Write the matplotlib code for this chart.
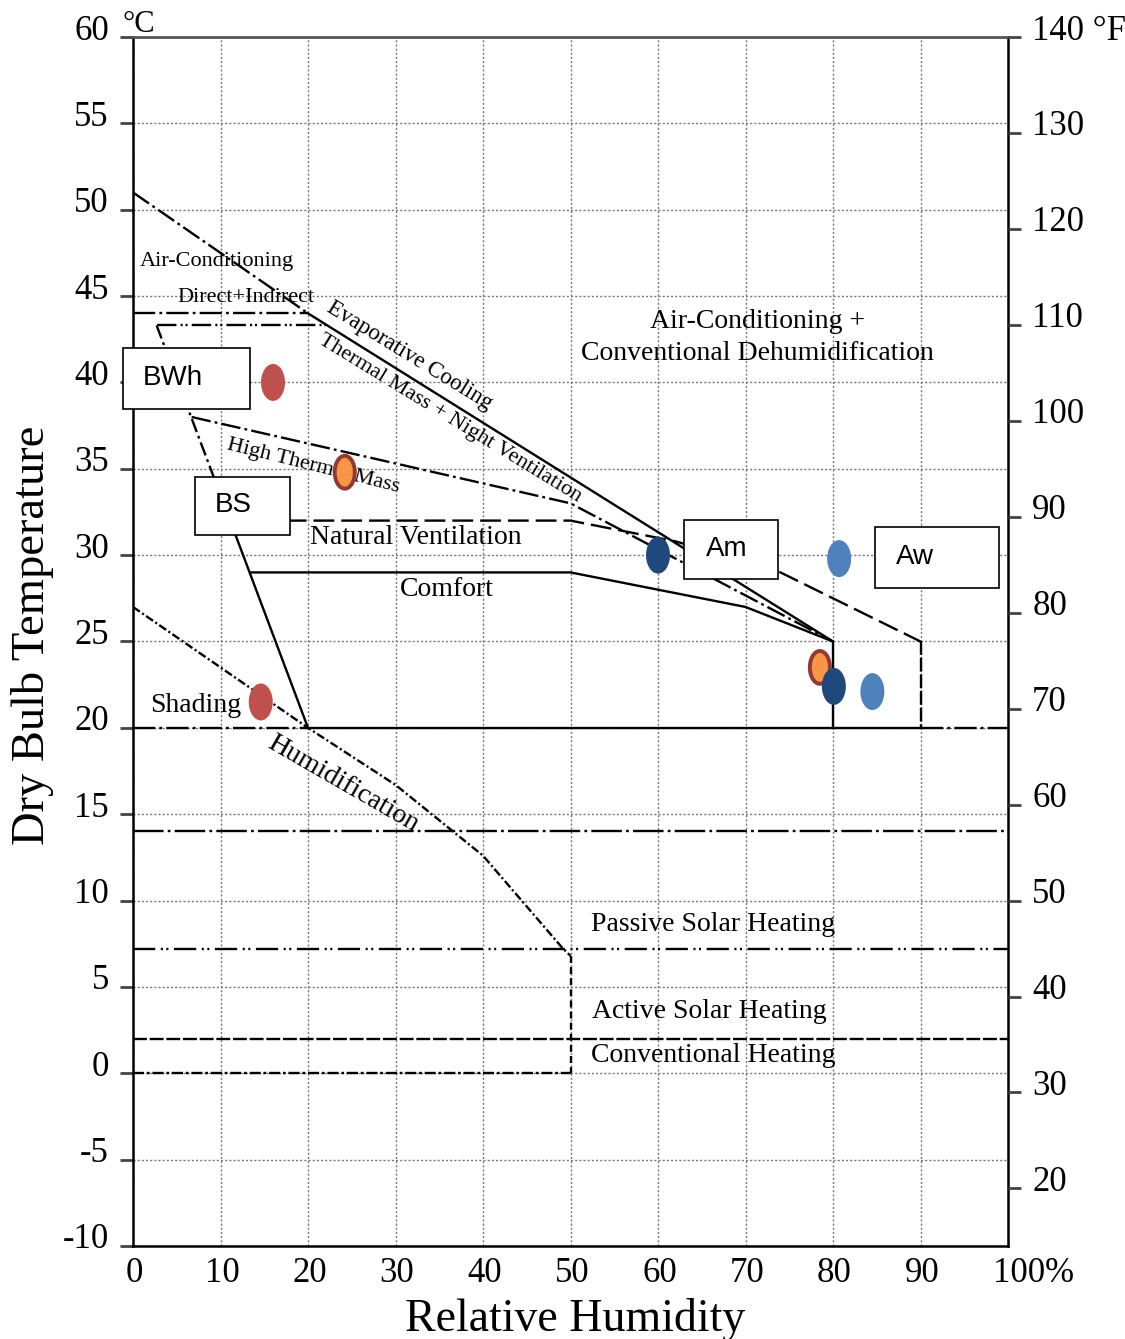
import matplotlib
matplotlib.use("Agg")
import matplotlib.pyplot as plt
from matplotlib.patches import Ellipse, Rectangle
from matplotlib.transforms import ScaledTranslation

plt.rcParams['font.family'] = ['Liberation Serif', 'DejaVu Serif']
plt.rcParams['lines.scale_dashes'] = False
plt.rcParams['axes.unicode_minus'] = False

# zone boundaries (relative humidity %, dry bulb °C)
ac_rh, ac_t = [0, 20], [51, 44]
evap_top_rh, evap_top_t = [0, 20], [44, 44]
evap_rh, evap_t = [20, 80], [44, 25]
tmnv_rh, tmnv_t = [2.7, 22], [43.3, 43.3]
steep_dash_rh, steep_dash_t = [2.7, 11.1], [43.3, 32]
steep_solid_rh, steep_solid_t = [11.1, 20], [32, 20]
htm_rh, htm_t = [6.7, 50, 80], [38, 33, 25]
natvent_rh, natvent_t = [11.1, 50, 62, 74, 90], [32, 32, 30.8, 29.0, 25]
natvent_side_rh, natvent_side_t = [90, 90], [25, 20]
comfort_rh, comfort_t = [13.4, 50, 70, 80, 80], [29, 29, 27, 25, 20]
base_solid_rh, base_t = [20, 90], [20, 20]
base_left_rh, base_right_rh = [0, 20], [90, 100]
humid_rh, humid_t = [0, 20, 30, 40, 49, 50], [27, 20, 16.7, 12.6, 7.3, 6.8]
humid_side_rh, humid_side_t = [50, 50], [6.8, 0]
zero_rh, zero_t = [0, 50], [0, 0]
full_rh = [0, 100]
passive_top_t = 14
passive_low_t = 7.2
active_low_t = 2

# climate points
clim_names = ["BWh", "BS", "Am", "Aw"]
clim_rh = [[16.0, 14.6], [24.2, 78.5], [60.0, 80.1], [80.7, 84.5]]
clim_t = [[40.0, 21.5], [34.8, 23.5], [30.0, 22.4], [29.8, 22.1]]
clim_face = ["#C0504D", "#F79646", "#1F497D", "#4F81BD"]
clim_edge = ["#C0504D", "#953735", "#1F497D", "#4F81BD"]

# label boxes: x0, x1, y0, y1, text x, text y, align
box_x = [(-1.14, 13.4), (7.09, 17.94), (62.97, 73.71), (84.8, 98.97)]
box_y = [(38.46, 42.0), (31.16, 34.52), (28.62, 32.03), (28.1, 31.63)]
box_text = [(1.1, 40.25, 'left'), (11.5, 32.9, 'center'), (67.8, 30.35, 'center'),
            (89.4, 29.9, 'center')]

fig = plt.figure(figsize=(11.25, 13.39), dpi=100)
ax = fig.add_axes([133 / 1125, 1 - 1246 / 1339, 875 / 1125, 1209 / 1339])
ax.set_xlim(0, 100)
ax.set_ylim(-10, 60)

dd = (0, (14, 3, 2, 3))
kw = dict(color='black', lw=1.7)
ax.plot(ac_rh, ac_t, ls=dd, **kw)
ax.plot(evap_top_rh, evap_top_t, ls=(0, (16, 3, 2, 3)), **kw)
ax.plot(evap_rh, evap_t, ls='-', **kw)
ax.plot(tmnv_rh, tmnv_t, ls=(0, (14, 3, 1.5, 2, 1.5, 3)), **kw)
ax.plot(steep_dash_rh, steep_dash_t, ls=(0, (10, 3, 2, 3)), **kw)
ax.plot(steep_solid_rh, steep_solid_t, ls='-', **kw)
ax.plot(htm_rh, htm_t, ls=dd, **kw)
ax.plot(natvent_rh, natvent_t, ls=(0, (15, 5)), **kw)
ax.plot(natvent_side_rh, natvent_side_t, ls=(0, (10, 2)), **kw)
ax.plot(comfort_rh, comfort_t, ls='-', **kw)
ax.plot(base_solid_rh, base_t, ls='-', **kw)
ax.plot(base_left_rh, base_t, ls=(0, (16, 3, 2, 3)), **kw)
ax.plot(base_right_rh, base_t, ls=(0, (16, 3, 2, 3)), **kw)
ax.plot(humid_rh, humid_t, ls=(0, (6, 2, 1.5, 2)), **kw)
ax.plot(humid_side_rh, humid_side_t, ls=(0, (5, 3)), **kw)
ax.plot(zero_rh, zero_t, ls=(0, (8, 2, 2, 2)), **kw)
ax.plot(full_rh, [passive_top_t] * 2, ls=(0, (22, 3, 2, 3)), **kw)
ax.plot(full_rh, [passive_low_t] * 2, ls=(0, (16, 4, 1.5, 2.5, 1.5, 4)), **kw)
ax.plot(full_rh, [active_low_t] * 2, ls=(0, (10, 2)), **kw)

# zone names
tk = dict(color='black', fontsize=20, va='center')
ax.text(0.8, 47.0, "Air-Conditioning", fontsize=16, color='black', va='center')
ax.text(5.1, 44.9, "Direct+Indirect", fontsize=16, color='black', va='center')
ax.text(22.3, 44.4, "Evaporative Cooling", fontsize=16.5, rotation=-31.5,
        rotation_mode='anchor', va='center', ha='left')
ax.text(21.4, 42.5, "Thermal Mass + Night Ventilation", fontsize=16, rotation=-31.5,
        rotation_mode='anchor', va='center', ha='left')
ax.text(10.8, 36.4, "High Thermal Mass", fontsize=16, rotation=-14,
        rotation_mode='anchor', va='center', ha='left')
ax.text(71.4, 43.5, "Air-Conditioning +", ha='center', **tk)
ax.text(71.4, 41.7, "Conventional Dehumidification", ha='center', **tk)
ax.text(20.2, 31.0, "Natural Ventilation", **tk)
ax.text(30.5, 28.0, "Comfort", **tk)
ax.text(1.9, 21.3, "Shading", **tk)
ax.text(15.6, 19.2, "Humidification", fontsize=20, rotation=-30,
        rotation_mode='anchor', va='center', ha='left')
ax.text(52.3, 8.6, "Passive Solar Heating", **tk)
ax.text(52.4, 3.55, "Active Solar Heating", **tk)
ax.text(52.3, 1.05, "Conventional Heating", **tk)

for (x0, x1), (y0, y1), (tx, ty, ha), name in zip(box_x, box_y, box_text, clim_names):
    ax.add_patch(Rectangle((x0, y0), x1 - x0, y1 - y0, facecolor='white',
                           edgecolor='black', lw=1.2, zorder=5, clip_on=False))
    ax.text(tx, ty, name, family='Liberation Sans', fontsize=20, ha=ha,
            va='center', zorder=6)

for rhs, ts, fc, ec in zip(clim_rh, clim_t, clim_face, clim_edge):
    for x, y in zip(rhs, ts):
        lw = 2.8 if ec != fc else 0
        w, h = (2.74, 2.14) if lw == 0 else (2.3, 1.9)
        ax.add_patch(Ellipse((x, y), w, h, facecolor=fc, edgecolor=ec,
                             lw=lw, zorder=7))

# axes and grid
ax.set_xticks(range(0, 101, 10))
ax.set_xticklabels([str(v) for v in range(0, 100, 10)] + ["100%"])
ax.set_yticks(range(-10, 61, 5))
ax.grid(True, color='#777777', ls=(0, (1.5, 1.5)), lw=1.0)
ax.set_axisbelow(True)
ax.tick_params(axis='x', length=0, pad=8, labelsize=25)
ax.tick_params(axis='y', direction='out', length=9.4, width=2, color='#444444',
               pad=8, labelsize=25)
for s in ['left', 'right', 'bottom']:
    ax.spines[s].set_linewidth(1.8)
    ax.spines[s].set_color('black')
ax.spines['top'].set_linewidth(2)
ax.spines['top'].set_color('#555555')

up = ScaledTranslation(0, 0.10, fig.dpi_scale_trans)
for lab in ax.get_yticklabels():
    lab.set_transform(lab.get_transform() + up)
for lab in ax.get_xticklabels():
    lab.set_transform(lab.get_transform() + ScaledTranslation(0.015, 0, fig.dpi_scale_trans))
last = ax.get_xticklabels()[-1]
last.set_horizontalalignment('left')
last.set_transform(last.get_transform() + ScaledTranslation(-0.165, 0, fig.dpi_scale_trans))

ax2 = ax.twinx()
ax2.set_ylim(-10 * 9 / 5 + 32, 60 * 9 / 5 + 32)
ftick = list(range(20, 141, 10))
ax2.set_yticks(ftick)
ax2.set_yticklabels([str(v) for v in ftick[:-1]] + ["140 °F"])
ax2.tick_params(axis='y', direction='out', length=9.4, width=2, color='#444444',
                pad=8, labelsize=25)
for lab in ax2.get_yticklabels():
    lab.set_transform(lab.get_transform() + up)
for s in ax2.spines.values():
    s.set_visible(False)

ax.text(-0.012, 0.998, "°C", transform=ax.transAxes, fontsize=22, va='bottom', ha='left')

ax.set_xlabel("Relative Humidity", fontsize=33)
ax.xaxis.set_label_coords(0.505, -0.043)
ax.set_ylabel("Dry Bulb Temperature", fontsize=33.5)
ax.yaxis.set_label_coords(-0.090, 0.505)

fig.savefig("out.png", dpi=100)
